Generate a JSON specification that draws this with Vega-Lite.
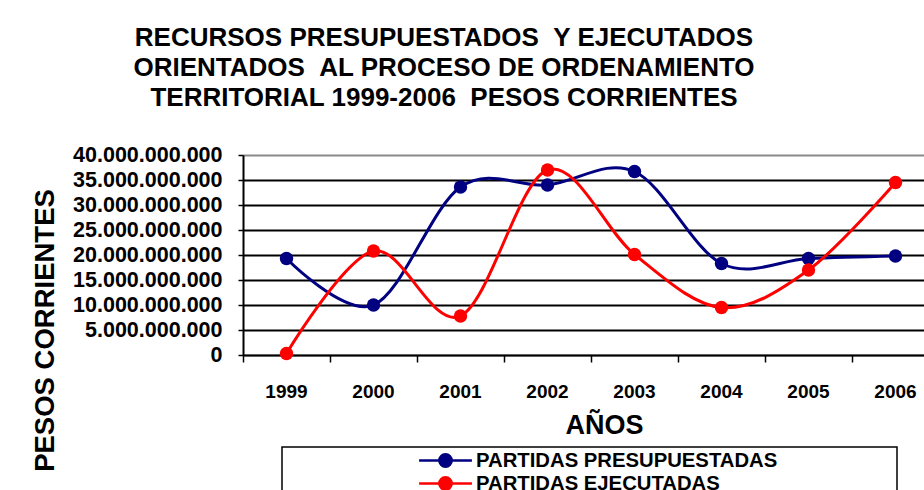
{
  "$schema": "https://vega.github.io/schema/vega-lite/v6.json",
  "width": 681,
  "height": 200,
  "autosize": {"type": "none"},
  "padding": {"left": 243, "top": 155, "right": 0, "bottom": 135},
  "background": "white",
  "config": {
    "locale": {"number": {"decimal": ",", "thousands": ".", "grouping": [3], "currency": ["$", ""]}},
    "font": "Liberation Sans",
    "view": {"stroke": null}
  },
  "title": {
    "text": ["RECURSOS PRESUPUESTADOS \u00a0Y EJECUTADOS", "ORIENTADOS \u00a0AL PROCESO DE ORDENAMIENTO", "TERRITORIAL 1999-2006 \u00a0PESOS CORRIENTES"],
    "frame": "group",
    "anchor": "start",
    "align": "center",
    "dx": 201,
    "offset": 33,
    "fontSize": 26,
    "fontWeight": "bold",
    "lineHeight": 30,
    "color": "black",
    "font": "Liberation Sans"
  },
  "data": {
    "values": [
      {"year": "1999", "serie": "PARTIDAS PRESUPUESTADAS", "value": 19300000000},
      {"year": "2000", "serie": "PARTIDAS PRESUPUESTADAS", "value": 10000000000},
      {"year": "2001", "serie": "PARTIDAS PRESUPUESTADAS", "value": 33600000000},
      {"year": "2002", "serie": "PARTIDAS PRESUPUESTADAS", "value": 34000000000},
      {"year": "2003", "serie": "PARTIDAS PRESUPUESTADAS", "value": 36700000000},
      {"year": "2004", "serie": "PARTIDAS PRESUPUESTADAS", "value": 18300000000},
      {"year": "2005", "serie": "PARTIDAS PRESUPUESTADAS", "value": 19300000000},
      {"year": "2006", "serie": "PARTIDAS PRESUPUESTADAS", "value": 19800000000},
      {"year": "1999", "serie": "PARTIDAS EJECUTADAS", "value": 300000000},
      {"year": "2000", "serie": "PARTIDAS EJECUTADAS", "value": 20800000000},
      {"year": "2001", "serie": "PARTIDAS EJECUTADAS", "value": 7800000000},
      {"year": "2002", "serie": "PARTIDAS EJECUTADAS", "value": 37000000000},
      {"year": "2003", "serie": "PARTIDAS EJECUTADAS", "value": 20100000000},
      {"year": "2004", "serie": "PARTIDAS EJECUTADAS", "value": 9500000000},
      {"year": "2005", "serie": "PARTIDAS EJECUTADAS", "value": 17000000000},
      {"year": "2006", "serie": "PARTIDAS EJECUTADAS", "value": 34500000000}
    ]
  },
  "encoding": {
    "x": {
      "field": "year",
      "type": "ordinal",
      "scale": {"type": "band", "paddingInner": 0, "paddingOuter": 0, "range": [0, 696]},
      "axis": {
        "title": "AÑOS",
        "titleFontSize": 27,
        "titleFontWeight": "bold",
        "titleColor": "black",
        "titleX": 361,
        "titleY": 70,
        "titleBaseline": "middle",
        "titleAlign": "center",
        "labelAngle": 0,
        "labelFontSize": 19,
        "labelFontWeight": "bold",
        "labelColor": "black",
        "labelPadding": 20,
        "bandPosition": 0,
        "tickSize": 7,
        "tickColor": "black",
        "tickWidth": 1.5,
        "domainColor": "black",
        "domainWidth": 1.5,
        "grid": false
      }
    },
    "y": {
      "field": "value",
      "type": "quantitative",
      "scale": {"domain": [0, 40000000000], "nice": false},
      "axis": {
        "values": [0, 5000000000, 10000000000, 15000000000, 20000000000, 25000000000, 30000000000, 35000000000, 40000000000],
        "format": ",d",
        "labelFontSize": 21.5,
        "labelFontWeight": "bold",
        "labelColor": "black",
        "labelPadding": 16,
        "tickSize": 5,
        "tickColor": "black",
        "tickWidth": 1.5,
        "domainColor": "black",
        "domainWidth": 2,
        "grid": true,
        "gridColor": {"condition": {"test": "datum.value == 40000000000", "value": "#8a8a8a"}, "value": "black"},
        "gridWidth": 2,
        "title": "PESOS CORRIENTES",
        "titleFontSize": 27.5,
        "titleFontWeight": "bold",
        "titleColor": "black",
        "titleAngle": -90,
        "titleX": -198,
        "titleY": 175,
        "titleAlign": "center",
        "titleBaseline": "middle"
      }
    },
    "color": {
      "field": "serie",
      "type": "nominal",
      "scale": {"domain": ["PARTIDAS PRESUPUESTADAS", "PARTIDAS EJECUTADAS"], "range": ["#000080", "#FF0000"]},
      "legend": {
        "orient": "none",
        "legendX": 39,
        "legendY": 292,
        "direction": "vertical",
        "title": "\u00a0",
        "titleOrient": "right",
        "titlePadding": 117,
        "padding": 3,
        "strokeColor": "black",
        "fillColor": "white",
        "symbolType": "M-3,0H3M-0.7,0A0.7,0.7,0,1,1,0.7,0A0.7,0.7,0,1,1,-0.7,0Z",
        "symbolSize": 310,
        "symbolStrokeWidth": 2.5,
        "symbolOffset": 150,
        "labelFontSize": 20.3,
        "labelFontWeight": "bold",
        "labelColor": "black",
        "labelOffset": 20,
        "rowPadding": 0,
        "labelLimit": 0,
        "encode": {
          "legend": {"update": {"strokeWidth": {"value": 1.5}}},
          "symbols": {
            "update": {
              "fill": {"scale": "color", "field": "value"},
              "stroke": {"scale": "color", "field": "value"},
              "opacity": {"value": 1}
            }
          }
        }
      }
    }
  },
  "layer": [
    {"mark": {"type": "line", "interpolate": "cardinal", "strokeWidth": 3}},
    {"mark": {"type": "point", "filled": true, "shape": "circle", "size": 180, "opacity": 1}}
  ]
}
